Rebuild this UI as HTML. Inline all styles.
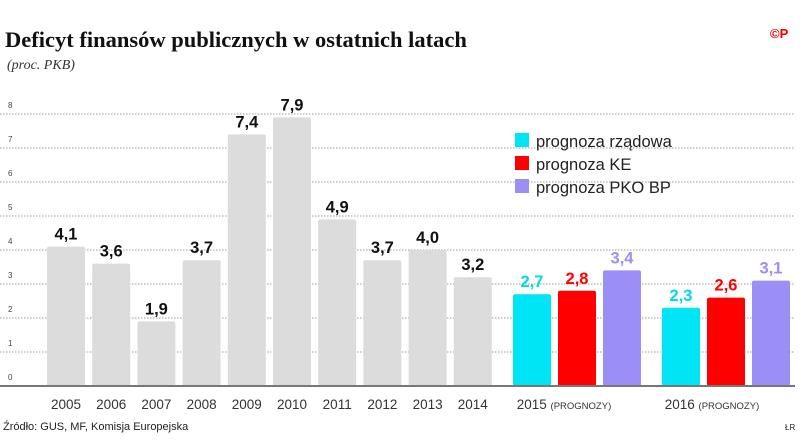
<!DOCTYPE html>
<html><head><meta charset="utf-8"><style>
body{margin:0;width:805px;height:447px;background:#fff;overflow:hidden;font-family:"Liberation Sans",sans-serif}
svg{display:block}
</style></head><body>
<svg width="805" height="447">
<text x="5" y="47" font-family="Liberation Serif" font-weight="bold" font-size="22.5" fill="#111">Deficyt finansów publicznych w ostatnich latach</text>
<text x="7" y="69" font-family="Liberation Serif" font-style="italic" font-size="14" fill="#333">(proc. PKB)</text>
<text x="770" y="38" font-size="13" font-weight="bold" fill="#e00">©P</text>
<g id="grid"></g>
<g id="bars"></g>
<line x1="0" y1="386" x2="795" y2="386" stroke="#777" stroke-width="2"/>
<g>
<rect x="515" y="133" width="14" height="14" fill="#00e5f5"/>
<text x="536" y="147" font-size="16.5" fill="#222">prognoza rządowa</text>
<rect x="515" y="156" width="14" height="14" fill="#f00"/>
<text x="536" y="170" font-size="16.5" fill="#222">prognoza KE</text>
<rect x="515" y="179" width="14" height="14" fill="#9b8ff5"/>
<text x="536" y="193" font-size="16.5" fill="#222">prognoza PKO BP</text>
</g>
<text x="564" y="409" font-size="13.5" fill="#333" text-anchor="middle">2015 <tspan font-size="9.5">(PROGNOZY)</tspan></text>
<text x="712" y="409" font-size="13.5" fill="#333" text-anchor="middle">2016 <tspan font-size="9.5">(PROGNOZY)</tspan></text>
<text x="3" y="430" font-size="11" fill="#222">Źródło: GUS, MF, Komisja Europejska</text>
<text x="785" y="430" font-size="8" fill="#222">ŁR</text>
</svg>
<script>
const years=["2005","2006","2007","2008","2009","2010","2011","2012","2013","2014"];
const hist=[4.1,3.6,1.9,3.7,7.4,7.9,4.9,3.7,4.0,3.2];
const fYears=["2015","2016"];
const gov=[2.7,2.3];
const ke=[2.8,2.6];
const pko=[3.4,3.1];
const ticks=[0,1,2,3,4,5,6,7,8];
const NS="http://www.w3.org/2000/svg";
const y=v=>386-v*34;
const fmt=v=>v.toFixed(1).replace('.',',');
function mk(t,a,p){const e=document.createElementNS(NS,t);for(const k in a)e.setAttribute(k,a[k]);p.appendChild(e);return e;}
const grid=document.getElementById('grid'),bars=document.getElementById('bars');
ticks.forEach(t=>{
 if(t>0){const l=mk('line',{x1:0,x2:795,y1:y(t),y2:y(t),stroke:'#999','stroke-dasharray':'1.5 1.5'},grid);
 
 }
 const tx=mk('text',{x:8,y:y(t)-6,'font-size':8,fill:'#444'},grid);tx.textContent=t;
 
 
});
function bar(x,v,c,tc,name){
 const r=mk('rect',{x:x,y:y(v),width:38,height:386-y(v),fill:c,rx:2},bars);
 
 
 const t=mk('text',{x:x+19,y:y(v)-7,'font-size':16.5,'font-weight':'bold',fill:tc,'text-anchor':'middle'},bars);t.textContent=fmt(v);
 
 
}
hist.forEach((v,i)=>{const x=47+i*45.2;bar(x,v,'#dcdcdc','#111',years[i]);
 const t=mk('text',{x:x+19,y:409,'font-size':13.5,fill:'#333','text-anchor':'middle'},bars);t.textContent=years[i];
 
 });
fYears.forEach((yr,i)=>{const x0=513+i*149;
 bar(x0,gov[i],'#00e5f5','#00d8ee',yr+'-government');
 bar(x0+45,ke[i],'#f00','#f00',yr+'-ec');
 bar(x0+90,pko[i],'#9b8ff5','#9b8ff5',yr+'-pko');});
</script>
</body></html>
